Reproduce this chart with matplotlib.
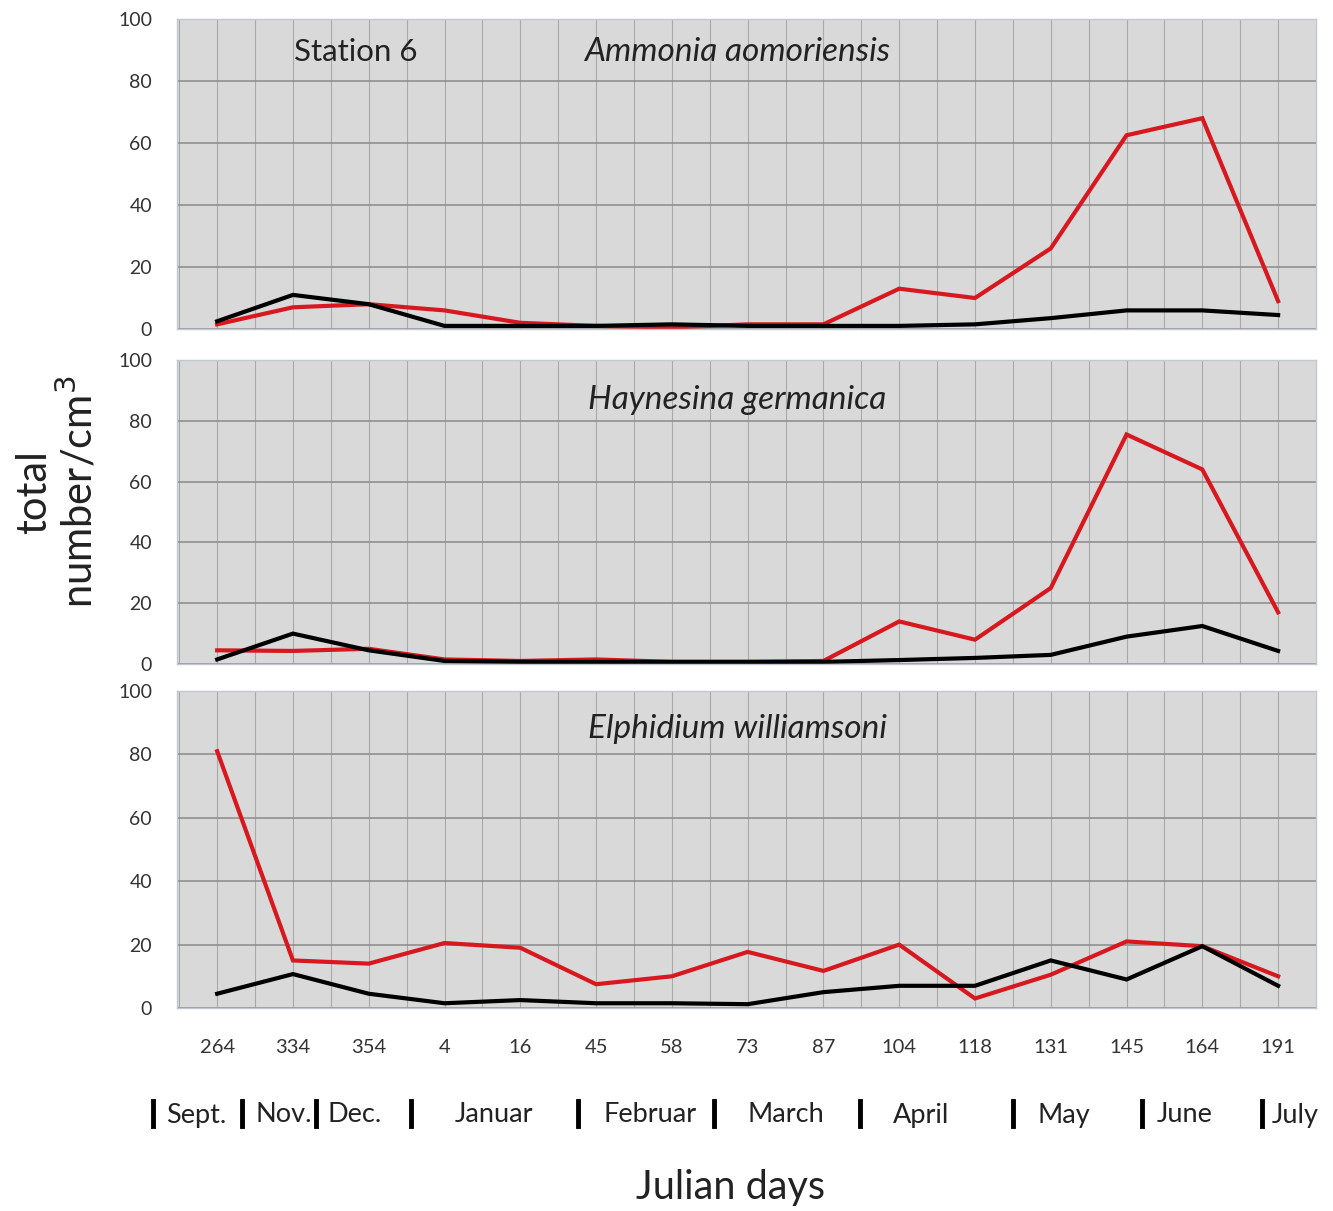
import matplotlib
matplotlib.use('Agg')
import matplotlib.pyplot as plt
from matplotlib.lines import Line2D

plt.rcParams['font.family'] = ['Lato', 'DejaVu Sans']

# Julian day labels on the x axis
days = ['264', '334', '354', '4', '16', '45', '58', '73', '87',
        '104', '118', '131', '145', '164', '191']

# Ammonia aomoriensis
ammonia_red = [1.5, 7, 8, 6, 2, 1, 0.5, 1.5, 1.5, 13, 10, 26, 62.5, 68, 9]
ammonia_black = [2.5, 11, 8, 1, 1, 1, 1.5, 1, 1, 1, 1.5, 3.5, 6, 6, 4.5]

# Haynesina germanica
haynesina_red = [4.5, 4.3, 5, 1.5, 1, 1.5, 0.7, 0.7, 1, 14, 8, 25, 75.5, 64, 17]
haynesina_black = [1.5, 10, 4.5, 1, 0.7, 0.7, 0.7, 0.7, 0.7, 1.3, 2, 3, 9, 12.5, 4.3]

# Elphidium williamsoni
elphidium_red = [81, 15, 14, 20.5, 19, 7.5, 10, 17.7, 11.7, 20, 3, 10.5, 21, 19.5, 10]
elphidium_black = [4.5, 10.7, 4.5, 1.5, 2.5, 1.5, 1.5, 1.2, 5, 7, 7, 15, 9, 19.5, 7]

species = ['Ammonia aomoriensis', 'Haynesina germanica', 'Elphidium williamsoni']
months = ['Sept.', 'Nov.', 'Dec.', 'Januar', 'Februar', 'March', 'April', 'May', 'June', 'July']

RED = '#d7191f'
W, H = 1333, 1211

fig = plt.figure(figsize=(W / 100, H / 100), dpi=100)

# panel boxes in pixels: (top, bottom)
panel_px = [(19, 329), (360, 664), (691, 1008)]
title_y = [0.894, 0.868, 0.880]
left, right = 177, 1316

series = [(ammonia_red, ammonia_black),
          (haynesina_red, haynesina_black),
          (elphidium_red, elphidium_black)]

x = list(range(len(days)))
for i, ((top, bot), (red, black)) in enumerate(zip(panel_px, series)):
    ax = fig.add_axes([left / W, 1 - bot / H, (right - left) / W, (bot - top) / H])
    ax.set_facecolor('#d9d9d9')
    ax.set_xlim(-0.53, 14.5)
    ax.set_ylim(0, 100)
    ax.set_yticks(range(0, 101, 20))
    ax.set_xticks(x)
    ax.set_xticks([v + 0.5 for v in x[:-1]] + [-0.5], minor=True)
    ax.grid(axis='y', color='#8a8a8a', linewidth=1.1)
    ax.grid(axis='x', which='both', color='#a9a9a9', linewidth=0.8)
    ax.set_axisbelow(True)
    for s in ax.spines.values():
        s.set_color('#c0c8d2')
        s.set_linewidth(1)
    ax.tick_params(axis='both', which='both', length=0)
    ax.tick_params(axis='y', labelsize=14, labelcolor='#333333', pad=18)
    if i == 2:
        ax.set_xticklabels(days, fontsize=14.5, color='#333333')
        ax.tick_params(axis='x', pad=22)
    else:
        ax.set_xticklabels([])

    ax.plot(x, red, color=RED, linewidth=3, solid_joinstyle='miter')
    ax.plot(x, black, color='black', linewidth=3, solid_joinstyle='miter')

    ax.text(0.4917, title_y[i], species[i], transform=ax.transAxes,
            ha='center', va='center', fontsize=24, style='italic', color='#222222')
    if i == 0:
        ax.text(0.157, title_y[i], 'Station 6', transform=ax.transAxes,
                ha='center', va='center', fontsize=22.5, color='#222222')

# month row with separator bars
bar_px = [153, 242, 316, 411, 578, 714, 860, 1013, 1142, 1262]
text_px = [166, 255, 328, 455, 603, 748, 893, 1038, 1157, 1272]
for b, t, name in zip(bar_px, text_px, months):
    fig.add_artist(Line2D([b / W, b / W], [1 - 1101 / H, 1 - 1126 / H],
                          color='black', linewidth=3.5, transform=fig.transFigure))
    fig.text(t / W, 1 - 1115 / H, name, ha='left', va='center',
             fontsize=19.5, color='#222222')

fig.text(730 / W, 1 - 1187 / H, 'Julian days', ha='center', va='center',
         fontsize=28.5, color='#222222')
fig.text(57 / W, 1 - 492 / H, 'total\nnumber/cm$^3$', ha='center', va='center',
         rotation=90, multialignment='center', fontsize=30, color='#222222',
         linespacing=1.05)

fig.savefig('out.png', dpi=100)
